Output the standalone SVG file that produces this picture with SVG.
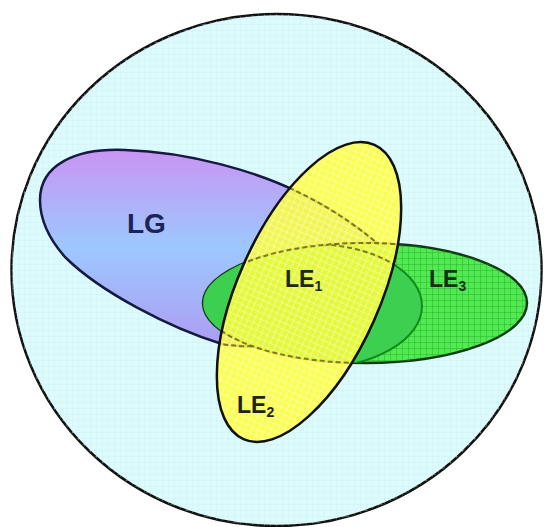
<svg xmlns="http://www.w3.org/2000/svg" width="544" height="527" viewBox="0 0 544 527">
<defs>
<style>
.lbl{font-family:"Liberation Sans",Arial,sans-serif;font-weight:bold}
.sub{font-size:14px}
.dash{fill:none;stroke:#6a5a10;stroke-width:2;stroke-dasharray:5 3;opacity:0.8}
</style>
<linearGradient id="lgGrad" x1="0" y1="150" x2="0" y2="345" gradientUnits="userSpaceOnUse">
<stop offset="0" stop-color="#c994f3"/>
<stop offset="0.5" stop-color="#9cc8ff"/>
<stop offset="1" stop-color="#ae9cf2"/>
</linearGradient>
<pattern id="gridG" width="6" height="6" patternUnits="userSpaceOnUse">
<path d="M0 0.5H6M0.5 0V6" stroke="#1f9a1f" stroke-width="1" opacity="0.35" fill="none"/>
</pattern>
<pattern id="gridY" width="6" height="6" patternUnits="userSpaceOnUse">
<path d="M0 0.5H6M0.5 0V6" stroke="#ffffd0" stroke-width="1" opacity="0.45" fill="none"/>
</pattern>
<pattern id="gridC" width="6" height="6" patternUnits="userSpaceOnUse">
<path d="M0 0.5H6M0.5 0V6" stroke="#c8eef0" stroke-width="1" opacity="0.3" fill="none"/>
</pattern>
<path id="lgShape" d="M40,200 C40,165 75,148 125,150 C190,152 258,172 300,193 C335,210 365,232 385,250 C410,272 430,290 420,305 C405,325 280,355 222,344 C170,328 100,292 65,257 C50,240 40,220 40,200 Z"/>
<ellipse id="outerShape" cx="365" cy="303" rx="162" ry="60"/>
<ellipse id="innerShape" cx="312" cy="306" rx="110" ry="62"/>
<ellipse id="yelShape" cx="309" cy="292" rx="71" ry="161" transform="rotate(24 309 292)"/>
<clipPath id="clipOuter"><use href="#outerShape"/></clipPath>
<clipPath id="clipYel"><use href="#yelShape"/></clipPath>
<mask id="maskLG" maskUnits="userSpaceOnUse" x="0" y="0" width="544" height="527">
<use href="#yelShape" fill="#fff"/>
<use href="#outerShape" fill="#000"/>
</mask>
</defs>

<g id="universe">
<ellipse cx="276.5" cy="270" rx="265" ry="256" fill="#ddfafc" stroke="#111" stroke-width="2.5"/>
<ellipse cx="276.5" cy="270" rx="265" ry="256" fill="url(#gridC)"/>
</g>

<g id="LG">
<use href="#lgShape" fill="url(#lgGrad)" stroke="#141a40" stroke-width="2.5"/>
<text class="lbl" x="127" y="233" font-size="28" fill="#1c2456">LG</text>
</g>

<g id="LE3">
<use href="#outerShape" fill="#52ea52" stroke="#0f3a12" stroke-width="2.5"/>
<use href="#outerShape" fill="url(#gridG)"/>
<text class="lbl" x="429" y="287" font-size="23" fill="#14301a">LE<tspan class="sub" dy="4">3</tspan></text>
</g>

<g id="LE1">
<g clip-path="url(#clipOuter)">
<use href="#innerShape" fill="#3ccf50" stroke="#128a1e" stroke-width="2"/>
</g>
</g>

<g id="LE2">
<use href="#yelShape" fill="#ffff3c" opacity="0.86"/>
<use href="#yelShape" fill="url(#gridY)"/>
<g clip-path="url(#clipYel)">
<use href="#outerShape" class="dash"/>
<g clip-path="url(#clipOuter)"><use href="#innerShape" class="dash"/></g>
</g>
<g mask="url(#maskLG)"><use href="#lgShape" class="dash"/></g>
<use href="#yelShape" fill="none" stroke="#111" stroke-width="2.5"/>
<text class="lbl" x="237" y="413" font-size="23" fill="#1e2410">LE<tspan class="sub" dy="4">2</tspan></text>
</g>

<text class="lbl" x="285" y="287" font-size="23" fill="#1c2a10">LE<tspan class="sub" dy="4">1</tspan></text>
</svg>
